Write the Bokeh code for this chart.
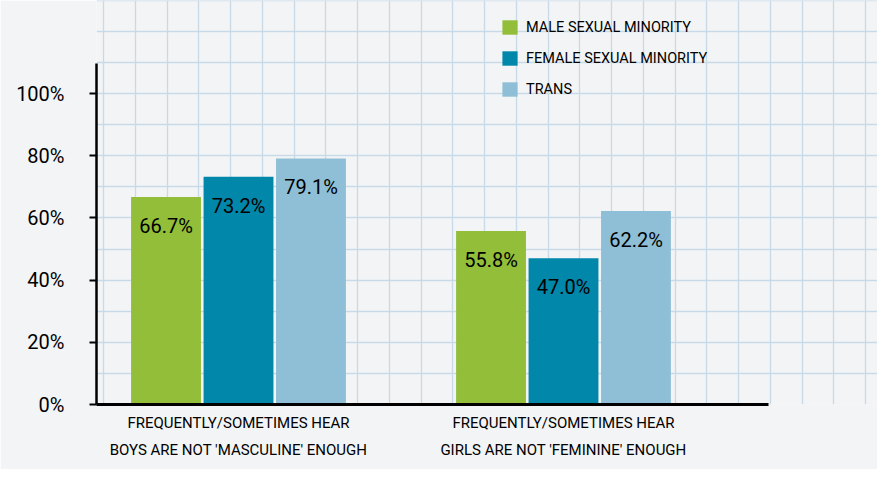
import numpy as np
from bokeh.plotting import figure
from bokeh.models import ColumnDataSource, Range1d, FixedTicker, Legend, LegendItem
from bokeh.core.properties import value
from bokeh.embed import file_html
from bokeh.resources import INLINE

# ---- data ----
categories = [
    "FREQUENTLY/SOMETIMES HEAR\nBOYS ARE NOT 'MASCULINE' ENOUGH",
    "FREQUENTLY/SOMETIMES HEAR\nGIRLS ARE NOT 'FEMININE' ENOUGH",
]
series_names = ["MALE SEXUAL MINORITY", "FEMALE SEXUAL MINORITY", "TRANS"]
male_sexual_minority = [66.7, 55.8]
female_sexual_minority = [73.2, 47.0]
trans = [79.1, 62.2]
colors = ["#92be39", "#0087aa", "#8fbfd6"]
y_ticks = [0, 20, 40, 60, 80, 100]
y_tick_labels = ["0%", "20%", "40%", "60%", "80%", "100%"]

FONT = "Roboto"
PX = 325.0  # pixels per category unit

p = figure(width=877, height=469, output_backend="svg", toolbar_location=None,
           x_range=Range1d(-142 / PX, -142 / PX + 781 / PX),
           y_range=Range1d(0, 404 / 3.11),
           min_border_left=96, min_border_right=0, min_border_top=0,
           min_border_bottom=65)
p.background_fill_color = "#f3f4f5"
p.border_fill_color = "#f3f4f5"
p.outline_line_color = None

# grid (graph paper look)
p.ygrid.ticker = FixedTicker(ticks=list(np.arange(0, 140, 10)))
p.xgrid.ticker = FixedTicker(ticks=list((np.arange(103, 880, 31.76) - 238) / PX))
p.grid.grid_line_color = "#c8dae7"
p.grid.grid_line_width = 1.3

series = [male_sexual_minority, female_sexual_minority, trans]
offset = 0.223
width = 0.215
items = []
for k, (name, vals, col) in enumerate(zip(series_names, series, colors)):
    xs = [i + (k - 1) * offset for i in range(len(categories))]
    src = ColumnDataSource(dict(x=xs, top=vals,
                                lab=[f"{v:.1f}%" for v in vals]))
    r = p.vbar(x="x", top="top", width=width, source=src, fill_color=col,
               line_color=None)
    p.text(x="x", y="top", text="lab", source=src, y_offset=29,
           text_align="center", text_baseline="middle",
           text_font=value(FONT), text_font_size="20px", text_color="black")
    items.append(LegendItem(label=name, renderers=[r]))

legend = Legend(items=items, location=(404, 306), orientation="vertical")
legend.background_fill_alpha = 0
legend.border_line_color = None
legend.padding = 0
legend.margin = 0
legend.spacing = 13
legend.glyph_width = 19
legend.glyph_height = 18
legend.label_height = 18
legend.label_standoff = 7
legend.label_text_font = FONT
legend.label_text_font_size = "14.5px"
legend.label_text_color = "black"
p.add_layout(legend, "center")

# y axis
ya = p.yaxis[0]
ya.ticker = FixedTicker(ticks=y_ticks)
ya.bounds = (0, 341 / 3.11)
ya.major_label_overrides = {t: l for t, l in zip(y_ticks, y_tick_labels)}
ya.axis_line_color = "black"
ya.axis_line_width = 2.5
ya.major_tick_line_color = "black"
ya.major_tick_line_width = 2
ya.major_tick_out = 7
ya.major_tick_in = 0
ya.minor_tick_line_color = None
ya.major_label_standoff = 25
ya.major_label_text_font = FONT
ya.major_label_text_font_size = "20px"
ya.major_label_text_color = "black"

# x axis
xa = p.xaxis[0]
xa.ticker = FixedTicker(ticks=list(range(len(categories))))
xa.bounds = (-150 / PX, 530 / PX)
xa.major_label_overrides = {i: c for i, c in enumerate(categories)}
xa.axis_line_color = "black"
xa.axis_line_width = 3
xa.major_tick_line_color = None
xa.minor_tick_line_color = None
xa.major_label_standoff = 3
xa.major_label_text_font = FONT
xa.major_label_text_font_size = "15px"
xa.major_label_text_color = "black"
xa.major_label_text_line_height = 1.53

open("out.html", "w").write(file_html(p, INLINE))
